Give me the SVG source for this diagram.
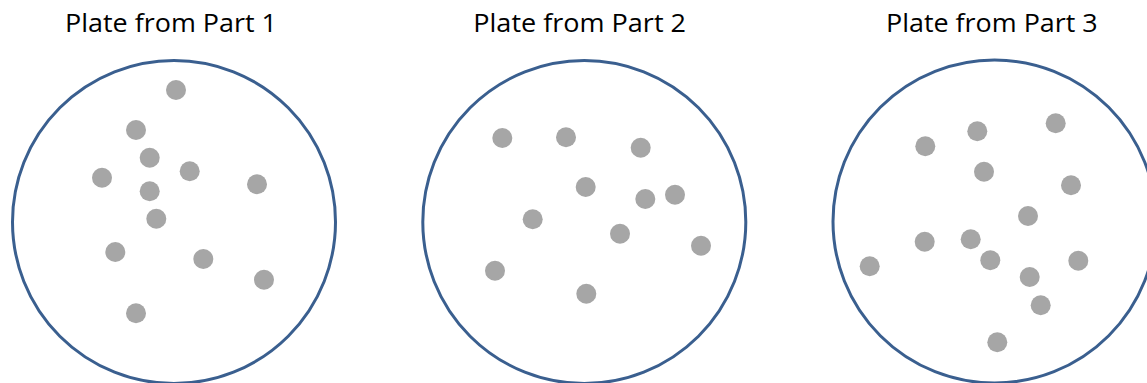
<svg xmlns="http://www.w3.org/2000/svg" width="1147" height="383" viewBox="0 0 1147 383">
<style>
.plate{fill:#FFFFFF;stroke:#3A5F8F;stroke-width:3}
.col{fill:#A6A6A6}
.lbl{font-family:"Open Sans","Liberation Sans",sans-serif;font-size:26px;fill:#000000}
</style>
<rect width="1147" height="383" fill="#FFFFFF"/>
<g id="plate1">
<text class="lbl" x="65" y="32" textLength="212" lengthAdjust="spacingAndGlyphs">Plate from Part 1</text>
<circle class="plate" cx="174" cy="222" r="161.5"/>
<circle class="col" cx="176" cy="90" r="10"/>
<circle class="col" cx="136" cy="130" r="10"/>
<circle class="col" cx="149.7" cy="157.7" r="10"/>
<circle class="col" cx="102" cy="177.7" r="10"/>
<circle class="col" cx="189.7" cy="171.3" r="10"/>
<circle class="col" cx="257" cy="184.3" r="10"/>
<circle class="col" cx="149.7" cy="191.3" r="10"/>
<circle class="col" cx="156.3" cy="218.7" r="10"/>
<circle class="col" cx="115.3" cy="252" r="10"/>
<circle class="col" cx="203.3" cy="259" r="10"/>
<circle class="col" cx="264" cy="279.7" r="10"/>
<circle class="col" cx="136" cy="313.3" r="10"/>
</g>
<g id="plate2">
<text class="lbl" x="473.3" y="32" textLength="212.7" lengthAdjust="spacingAndGlyphs">Plate from Part 2</text>
<circle class="plate" cx="584.3" cy="222" r="161.5"/>
<circle class="col" cx="502.3" cy="138" r="10"/>
<circle class="col" cx="566" cy="137.3" r="10"/>
<circle class="col" cx="640.7" cy="147.7" r="10"/>
<circle class="col" cx="585.7" cy="187" r="10"/>
<circle class="col" cx="645.3" cy="199" r="10"/>
<circle class="col" cx="675" cy="194.7" r="10"/>
<circle class="col" cx="532.7" cy="219.3" r="10"/>
<circle class="col" cx="620" cy="233.7" r="10"/>
<circle class="col" cx="701" cy="245.7" r="10"/>
<circle class="col" cx="495" cy="270.7" r="10"/>
<circle class="col" cx="586.3" cy="293.7" r="10"/>
</g>
<g id="plate3">
<text class="lbl" x="886" y="32" textLength="211.7" lengthAdjust="spacingAndGlyphs">Plate from Part 3</text>
<circle class="plate" cx="994.5" cy="221.5" r="161.5"/>
<circle class="col" cx="925.3" cy="146.3" r="10"/>
<circle class="col" cx="977.3" cy="131.3" r="10"/>
<circle class="col" cx="1055.7" cy="123.3" r="10"/>
<circle class="col" cx="984" cy="171.7" r="10"/>
<circle class="col" cx="1071" cy="185.3" r="10"/>
<circle class="col" cx="1028" cy="216" r="10"/>
<circle class="col" cx="924.7" cy="241.7" r="10"/>
<circle class="col" cx="970.7" cy="239.3" r="10"/>
<circle class="col" cx="990.3" cy="260.3" r="10"/>
<circle class="col" cx="1078.3" cy="260.7" r="10"/>
<circle class="col" cx="869.7" cy="266.3" r="10"/>
<circle class="col" cx="1029.7" cy="277" r="10"/>
<circle class="col" cx="1040.7" cy="305.3" r="10"/>
<circle class="col" cx="997.3" cy="342.3" r="10"/>
</g>
<g id="connectors"/>
</svg>
